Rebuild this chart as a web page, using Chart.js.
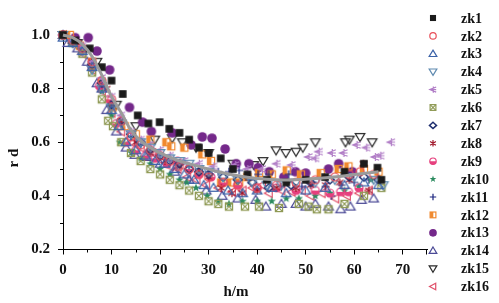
<!DOCTYPE html>
<html>
<head>
<meta charset="utf-8">
<script src="https://cdn.jsdelivr.net/npm/chart.js@4.4.0/dist/chart.umd.min.js"></script>
<style>
  html, body { margin: 0; padding: 0; background: #fff; }
  #wrap { width: 499px; height: 303px; }
</style>
</head>
<body>
<div id="wrap"><canvas id="c" width="499" height="303"></canvas></div>
<script>
// series names shown in the legend
const seriesNames = ['zk1', 'zk2', 'zk3', 'zk4', 'zk5', 'zk6', 'zk7', 'zk8',
  'zk9', 'zk10', 'zk11', 'zk12', 'zk13', 'zk14', 'zk15', 'zk16'];

// [h (m), r_d]
const zk1 = [[0,1.0],[2.5,0.98],[5.5,0.95],[8,0.88],[10,0.83],[12.3,0.78],[15.4,0.70],[17.6,0.67],[19.9,0.675],[21.9,0.65],[24,0.635],[26,0.61],[28,0.58],[30,0.56],[32.5,0.54],[35,0.5],[38,0.48],[42,0.46],[46,0.45],[50,0.46],[54,0.47],[58,0.49],[62,0.52],[64.8,0.505],[65.6,0.46]];
const zk2 = [[0,1.0],[2,0.98],[4,0.95],[6,0.9],[8,0.83],[10,0.76],[12,0.68],[14,0.62],[16,0.59],[18,0.57],[20,0.55],[22,0.53],[24,0.51],[26,0.5],[28,0.48],[30,0.47],[33,0.45],[36,0.44],[40,0.43],[44,0.44],[48,0.45],[52,0.46],[56,0.47],[59,0.48],[61.2,0.49],[64,0.48]];
const zk3 = [[0,0.99],[2,0.97],[4,0.94],[6,0.88],[8,0.8],[10,0.72],[11.5,0.66],[13,0.6],[15,0.57],[17,0.55],[19,0.53],[21,0.52],[23,0.5],[25,0.48],[27,0.46],[29,0.44],[31,0.43],[34,0.42],[37,0.41],[40,0.42],[43,0.43],[46,0.41],[50,0.42],[54,0.43],[58,0.44],[62,0.45],[65,0.44]];
const zk4 = [[0,1.0],[2,0.97],[4,0.94],[6,0.87],[8,0.8],[10,0.73],[12,0.67],[14,0.63],[16,0.6],[18,0.58],[20,0.56],[22,0.54],[24,0.53],[26,0.52],[28,0.5],[30,0.49],[33,0.47],[36,0.46],[39,0.45],[42,0.44],[45,0.44],[48,0.45],[52,0.45],[56,0.46],[60,0.47],[64,0.46],[66,0.44]];
const zk5 = [[0,1.0],[2,0.98],[4,0.96],[6,0.9],[8,0.84],[10,0.77],[12,0.7],[14,0.64],[16,0.61],[18,0.59],[20,0.57],[22,0.55],[25,0.53],[28,0.52],[31,0.51],[35.5,0.515],[38,0.5],[41,0.5],[44,0.52],[47.1,0.515],[50.6,0.545],[52,0.54],[52.7,0.565],[55.4,0.56],[57.8,0.56],[60.5,0.59],[62.5,0.58],[64.3,0.545],[65.4,0.55],[67.6,0.6]];
const zk6 = [[0,1.0],[2,0.97],[4,0.93],[6,0.86],[8,0.76],[9.3,0.68],[10.3,0.66],[12,0.6],[14,0.56],[16,0.53],[18,0.5],[20,0.48],[22,0.46],[24,0.44],[26,0.42],[28,0.4],[30,0.38],[32,0.37],[34.2,0.36],[37.5,0.36],[40.4,0.36],[44.5,0.355],[48.6,0.37],[50.6,0.36],[52.3,0.35],[54.7,0.35],[58,0.37],[62,0.4],[65.6,0.43]];
const zk7 = [[0,1.0],[2,0.97],[4,0.95],[6,0.89],[8,0.82],[10,0.74],[12,0.68],[14,0.63],[16,0.6],[18,0.57],[20,0.55],[22,0.53],[24,0.52],[26,0.5],[28,0.49],[30,0.48],[33,0.47],[36,0.46],[39,0.45],[42.4,0.43],[47,0.44],[51,0.45],[55,0.46],[59,0.47],[62,0.47],[65,0.46]];
const zk8 = [[0,1.0],[3,0.97],[6,0.9],[9,0.8],[12,0.68],[15,0.6],[18,0.56],[21,0.53],[24,0.51],[28,0.49],[30,0.47],[32.6,0.43],[34.8,0.41],[36.9,0.41],[40,0.42],[44,0.43],[48,0.43],[51,0.44],[54.1,0.44],[57,0.45],[59,0.46],[61.9,0.52],[63,0.42]];
const zk9 = [[0,1.0],[2,0.98],[4,0.95],[6,0.88],[7.5,0.81],[9.5,0.76],[11,0.67],[13,0.6],[15,0.57],[17,0.55],[19,0.54],[21.5,0.52],[23.6,0.53],[26,0.5],[28,0.48],[30.5,0.47],[33,0.45],[36,0.44],[40,0.43],[44,0.43],[48,0.42],[52,0.42],[55,0.41],[57.2,0.415],[58.8,0.415],[61,0.43]];
const zk10 = [[0,1.0],[2,0.97],[4,0.94],[6,0.88],[8,0.79],[10,0.7],[11.7,0.6],[14.1,0.56],[16,0.54],[18,0.52],[20,0.5],[22,0.48],[24,0.46],[25.5,0.45],[27.4,0.43],[29.7,0.4],[32,0.38],[34.2,0.37],[37,0.38],[40,0.38],[43,0.38],[46,0.39],[48.6,0.39],[52,0.4],[55,0.41],[58,0.42],[60.9,0.435],[63.5,0.46]];
const zk11 = [[0,1.0],[2,0.97],[4,0.95],[6,0.9],[8,0.82],[10,0.74],[12,0.67],[14,0.62],[16,0.59],[18,0.57],[20,0.55],[22,0.53],[24,0.52],[26,0.51],[28,0.5],[30,0.49],[32,0.49],[34.2,0.49],[36.3,0.495],[38.3,0.46],[40.2,0.48],[42.4,0.48],[44.9,0.435],[46.5,0.48],[49.2,0.435],[51.5,0.45],[54.1,0.435],[55.3,0.40],[57.4,0.44],[60,0.45],[63,0.46]];
const zk12 = [[0,1.0],[1.4,1.0],[3.5,0.96],[6,0.9],[8,0.82],[10.2,0.73],[12.7,0.66],[15,0.63],[18,0.61],[21.3,0.6],[22.3,0.585],[25,0.58],[28.7,0.555],[30.5,0.53],[32.6,0.45],[34.6,0.45],[36.3,0.45],[38,0.47],[40.4,0.485],[43,0.48],[46.1,0.495],[49,0.48],[53.1,0.485],[56.8,0.5],[58.8,0.51],[62,0.5],[65,0.49]];
const zk13 = [[0,1.0],[2.5,0.99],[5.2,0.99],[7,0.94],[9.6,0.87],[13.7,0.73],[16.4,0.675],[18.2,0.64],[22.5,0.635],[26.4,0.59],[28.7,0.62],[30.7,0.615],[33.4,0.575],[35.7,0.52],[38.3,0.52],[40.2,0.505],[42.5,0.49],[45.5,0.47],[47.9,0.49],[50,0.485],[54.7,0.5],[56.8,0.52],[59.6,0.49]];
const zk14 = [[0,1.0],[1,0.97],[3,0.95],[5,0.9],[7,0.82],[9,0.72],[11,0.64],[13,0.58],[14.8,0.553],[17.2,0.545],[20,0.52],[23,0.49],[26,0.46],[29.5,0.42],[32.8,0.4],[36,0.39],[39.7,0.385],[41.8,0.36],[45,0.37],[48,0.37],[50,0.36],[52,0.37],[54.7,0.36],[57.2,0.35],[59.2,0.36],[61.5,0.385],[64,0.39]];
const zk15 = [[0,1.0],[3,0.97],[7,0.9],[11,0.74],[15,0.66],[18.9,0.61],[22.5,0.615],[24.6,0.60],[27.4,0.58],[30,0.56],[35,0.52],[39.3,0.515],[41.2,0.53],[43.9,0.57],[45.9,0.56],[48,0.565],[49.4,0.58],[52,0.60],[58.2,0.60],[59,0.61],[61.2,0.62],[63.7,0.60]];
const zk16 = [[0,1.0],[2,0.97],[4,0.93],[6,0.87],[8,0.79],[10,0.71],[12,0.64],[14,0.6],[16,0.58],[18.4,0.56],[20.5,0.53],[22,0.51],[23.6,0.5],[25.6,0.47],[27.5,0.46],[29.5,0.44],[32,0.43],[34.8,0.415],[37,0.42],[39,0.43],[41,0.44],[42.4,0.41],[45,0.42],[47.1,0.415],[49.2,0.42],[51,0.4],[53.3,0.41],[56.1,0.39],[58.5,0.4],[61,0.41],[63,0.42]];

// grey fitted curve
const fitCurve = [[0,1.0],[2,0.99],[4,0.965],[6,0.92],[8,0.85],[10,0.77],[12,0.71],[14,0.645],[16,0.605],[18,0.58],[20,0.56],[24,0.53],[28,0.51],[32,0.49],[36,0.475],[40,0.465],[44,0.46],[48,0.46],[52,0.465],[56,0.47],[60,0.48],[65,0.49]];

const seriesData = [zk1, zk2, zk3, zk4, zk5, zk6, zk7, zk8, zk9, zk10, zk11, zk12, zk13, zk14, zk15, zk16];

const xTicks = [0, 10, 20, 30, 40, 50, 60, 70];
const yTicks = [0.2, 0.4, 0.6, 0.8, 1.0];

const markerKinds = ['square', 'circle', 'triUp', 'triDown', 'arrowCross', 'boxX', 'diamond', 'asterisk',
  'halfCircle', 'star', 'plus', 'halfSquare', 'dot', 'triUp', 'triDown', 'triLeft'];
const markerColors = ['#1b1b1b', '#e8505a', '#3b62a8', '#5f8ab0', '#b07cc6', '#8f9a55', '#1f2f6f', '#a0162a',
  '#e6407e', '#2a8a5e', '#1a237e', '#f0892e', '#74288a', '#4b4a96', '#2b2b2b', '#e0506a'];

function drawMarker(ctx, kind, cx, cy, k, color) {
  const r = 4 * k;
  ctx.save();
  ctx.strokeStyle = color;
  ctx.fillStyle = color;
  ctx.lineWidth = 1.2;
  ctx.beginPath();
  switch (kind) {
    case 'square':
      ctx.fillRect(cx - r * 0.95, cy - r * 0.95, r * 1.9, r * 1.9);
      break;
    case 'circle':
      ctx.arc(cx, cy, r, 0, Math.PI * 2);
      ctx.stroke();
      break;
    case 'dot':
      ctx.arc(cx, cy, r * 1.2, 0, Math.PI * 2);
      ctx.fill();
      break;
    case 'triUp':
      ctx.moveTo(cx, cy - r * 1.15);
      ctx.lineTo(cx + r * 1.2, cy + r * 0.85);
      ctx.lineTo(cx - r * 1.2, cy + r * 0.85);
      ctx.closePath();
      ctx.stroke();
      break;
    case 'triDown':
      ctx.moveTo(cx, cy + r * 1.15);
      ctx.lineTo(cx + r * 1.2, cy - r * 0.85);
      ctx.lineTo(cx - r * 1.2, cy - r * 0.85);
      ctx.closePath();
      ctx.stroke();
      break;
    case 'triLeft':
      ctx.moveTo(cx - r * 1.1, cy);
      ctx.lineTo(cx + r * 0.85, cy - r * 1.05);
      ctx.lineTo(cx + r * 0.85, cy + r * 1.05);
      ctx.closePath();
      ctx.stroke();
      break;
    case 'diamond':
      ctx.lineWidth = 1.5;
      ctx.moveTo(cx, cy - r);
      ctx.lineTo(cx + r * 1.1, cy);
      ctx.lineTo(cx, cy + r);
      ctx.lineTo(cx - r * 1.1, cy);
      ctx.closePath();
      ctx.stroke();
      break;
    case 'asterisk':
      ctx.moveTo(cx, cy - r); ctx.lineTo(cx, cy + r);
      ctx.moveTo(cx - r * 0.9, cy - r * 0.6); ctx.lineTo(cx + r * 0.9, cy + r * 0.6);
      ctx.moveTo(cx - r * 0.9, cy + r * 0.6); ctx.lineTo(cx + r * 0.9, cy - r * 0.6);
      ctx.stroke();
      break;
    case 'plus':
      ctx.moveTo(cx, cy - r); ctx.lineTo(cx, cy + r);
      ctx.moveTo(cx - r, cy); ctx.lineTo(cx + r, cy);
      ctx.stroke();
      break;
    case 'halfCircle':
      ctx.arc(cx, cy, r, 0, Math.PI);
      ctx.closePath();
      ctx.fill();
      ctx.beginPath();
      ctx.arc(cx, cy, r, 0, Math.PI * 2);
      ctx.stroke();
      break;
    case 'halfSquare':
      ctx.fillRect(cx - r * 0.9, cy - r * 0.9, r * 1.0, r * 1.8);
      ctx.strokeRect(cx - r * 0.9, cy - r * 0.9, r * 1.8, r * 1.8);
      break;
    case 'star':
      for (let i = 0; i < 10; i++) {
        const a = -Math.PI / 2 + i * Math.PI / 5;
        const rr = i % 2 === 0 ? r * 1.1 : r * 0.45;
        ctx.lineTo(cx + rr * Math.cos(a), cy + rr * Math.sin(a));
      }
      ctx.closePath();
      ctx.fill();
      break;
    case 'boxX':
      ctx.strokeRect(cx - r * 0.9, cy - r * 0.9, r * 1.8, r * 1.8);
      ctx.moveTo(cx - r * 0.9, cy - r * 0.9); ctx.lineTo(cx + r * 0.9, cy + r * 0.9);
      ctx.moveTo(cx - r * 0.9, cy + r * 0.9); ctx.lineTo(cx + r * 0.9, cy - r * 0.9);
      ctx.stroke();
      break;
    case 'arrowCross':
      ctx.moveTo(cx + r, cy - r * 0.8); ctx.lineTo(cx - r, cy); ctx.lineTo(cx + r, cy + r * 0.8);
      ctx.moveTo(cx - r, cy); ctx.lineTo(cx + r, cy);
      ctx.moveTo(cx + r * 0.1, cy - r); ctx.lineTo(cx + r * 0.1, cy + r);
      ctx.stroke();
      break;
  }
  ctx.restore();
}

function makeMarker(kind, color, k) {
  const c = document.createElement('canvas');
  c.width = 14;
  c.height = 14;
  drawMarker(c.getContext('2d'), kind, 7, 7, k, color);
  return c;
}

const pointImages = markerKinds.map((m, i) => makeMarker(m, markerColors[i], 1));

const serif = "'Liberation Serif', 'Times New Roman', serif";

const datasets = [{
  label: 'fit',
  data: fitCurve.map(p => ({ x: p[0], y: p[1] })),
  showLine: true,
  borderColor: '#9b9b9b',
  borderWidth: 3,
  pointRadius: 0,
  tension: 0.4,
  clip: false
}];
seriesNames.forEach((name, i) => {
  datasets.push({
    label: name,
    data: seriesData[i].map(p => ({ x: p[0], y: p[1] })),
    pointStyle: pointImages[i],
    pointRadius: 5,
    clip: false
  });
});

// minor ticks, axis titles and the legend column
const extras = {
  id: 'extras',
  afterDraw(chart) {
    const ctx = chart.ctx;
    const xs = chart.scales.x, ys = chart.scales.y;
    const area = chart.chartArea;
    ctx.save();
    ctx.strokeStyle = '#000';
    ctx.lineWidth = 1;
    ctx.beginPath();
    [5, 15, 25, 35, 45, 55, 65].forEach(v => {
      const px = Math.round(xs.getPixelForValue(v)) + 0.5;
      ctx.moveTo(px, area.bottom); ctx.lineTo(px, area.bottom + 3);
    });
    const pEnd = Math.round(xs.getPixelForValue(75)) - 0.5;
    ctx.moveTo(pEnd, area.bottom); ctx.lineTo(pEnd, area.bottom + 5);
    [0.3, 0.5, 0.7, 0.9].forEach(v => {
      const py = Math.round(ys.getPixelForValue(v)) + 0.5;
      ctx.moveTo(area.left, py); ctx.lineTo(area.left - 3, py);
    });
    ctx.stroke();

    ctx.fillStyle = '#111';
    ctx.font = 'bold 15px ' + serif;
    ctx.textAlign = 'center';
    ctx.textBaseline = 'middle';
    ctx.fillText('h/m', 236, 292);

    ctx.save();
    ctx.translate(14, 158);
    ctx.rotate(-Math.PI / 2);
    ctx.fillText('r d', 0, 0);
    ctx.restore();

    ctx.font = 'bold 14px ' + serif;
    ctx.textAlign = 'left';
    seriesNames.forEach((name, i) => {
      const y = 18 + i * 17.9;
      drawMarker(ctx, markerKinds[i], 433, y, 0.8, markerColors[i]);
      ctx.fillStyle = '#111';
      ctx.fillText(name, 461, y + 1);
    });
    ctx.restore();
  }
};

new Chart(document.getElementById('c'), {
  type: 'scatter',
  data: { datasets },
  options: {
    responsive: false,
    animation: false,
    devicePixelRatio: 1,
    layout: { padding: { top: 35, right: 72, bottom: 0, left: 0 } },
    scales: {
      x: {
        type: 'linear',
        min: 0,
        max: 75,
        afterFit: s => { s.height = 53.5; },
        afterBuildTicks: s => { s.ticks = xTicks.map(v => ({ value: v })); },
        border: { color: '#000', width: 1 },
        grid: { drawOnChartArea: false, tickLength: 5, color: '#000' },
        ticks: {
          padding: 7,
          color: '#111',
          font: { family: serif, size: 15, weight: 'bold' }
        }
      },
      y: {
        min: 0.2,
        max: 1.0,
        afterFit: s => { s.width = 63; },
        afterBuildTicks: s => { s.ticks = yTicks.map(v => ({ value: v })); },
        border: { color: '#000', width: 1 },
        grid: { drawOnChartArea: false, tickLength: 5, color: '#000' },
        ticks: {
          padding: 8,
          color: '#111',
          font: { family: serif, size: 15, weight: 'bold' },
          callback: v => v.toFixed(1)
        }
      }
    },
    plugins: {
      legend: { display: false },
      tooltip: { enabled: false }
    }
  },
  plugins: [extras]
});
</script>
</body>
</html>
